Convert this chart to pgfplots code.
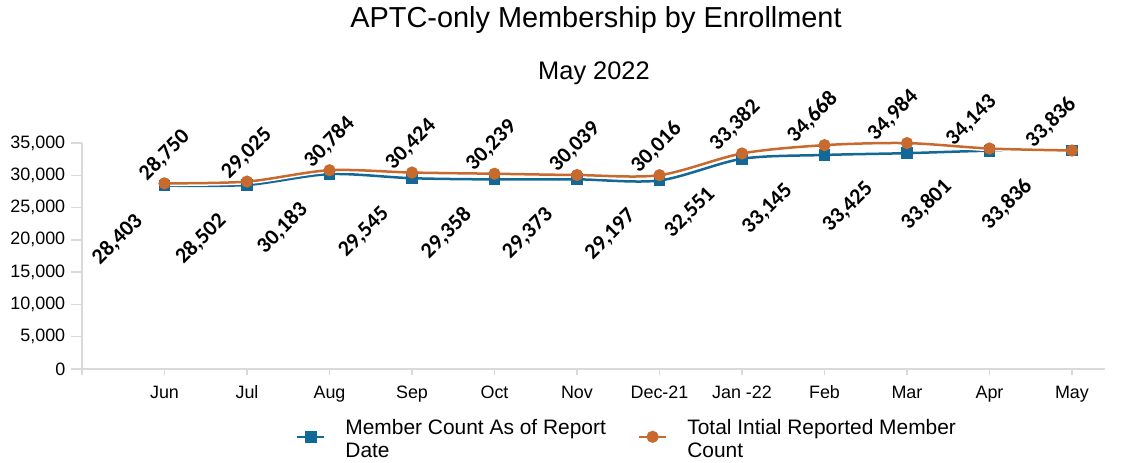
\documentclass[border=0pt]{standalone}
\usepackage{fontspec}
\setmainfont{Liberation Sans}
\newfontfamily\labfont{Carlito}
\usepackage{pgfplots}
\usepackage{pgfplotstable}
\pgfplotsset{compat=1.18}
\definecolor{cblue}{RGB}{18,104,150}
\definecolor{corange}{RGB}{200,106,45}
\definecolor{axgray}{RGB}{217,217,217}

\pgfplotstableread{
x blue bdx orange odx
1 28403 -47 28750 0
2 28502 -46 29025 0
3 30183 -47 30784 0
4 29545 -48 30424 -1
5 29358 -48 30239 -3
6 29373 -49 30039 -2
7 29197 -49 30016 -3
8 32551 -52 33382 -7
9 33145 -57 34668 -12
10 33425 -59 34984 -14
11 33801 -63 34143 -18
12 33836 -65 33836 -21
}\datatable

\begin{document}
\begin{tikzpicture}
\useasboundingbox (0,0) rectangle (1145bp,463bp);
\node[anchor=base, font=\fontsize{29}{34}\selectfont] at (596bp,435bp) {APTC-only Membership by Enrollment};
\node[anchor=base, font=\fontsize{25.5}{30}\selectfont] at (594bp,383bp) {May 2022};
\begin{axis}[
  at={(82bp,94bp)}, anchor=south west,
  scale only axis, width=1023bp, height=226bp,
  xmin=0, xmax=12.4, ymin=0, ymax=35000,
  axis x line*=bottom, axis y line*=left,
  axis line style={axgray, line width=2bp, -},
  xtick={0,...,12},
  xticklabels={,Jun,Jul,Aug,Sep,Oct,Nov,Dec-21,Jan -22,Feb,Mar,Apr,May},
  ytick={0,5000,...,35000},
  scaled y ticks=false,
  yticklabel style={/pgf/number format/.cd, fixed, 1000 sep={,}, assume math mode=true, /tikz/.cd, xshift=-9bp},
  xticklabel style={yshift=-9bp},
  tick align=outside,
  tick style={axgray, line width=1.5bp},
  xtick style={/pgfplots/major tick length=6bp},
  ytick style={/pgfplots/major tick length=11bp},
  ticklabel style={font=\fontsize{18}{22}\selectfont},
  clip=false,
  legend style={at={(axis description cs:0.206,-0.3)}, anchor=west, draw=none, fill=none,
    font=\fontsize{21}{23.5}\selectfont,
    /tikz/every odd column/.append style={column sep=18bp},
    /tikz/every even column/.append style={column sep=30bp}},
  legend columns=2,
  legend image code/.code={\draw[mark repeat=2,mark phase=2] plot coordinates {(0bp,0bp) (13.5bp,0bp) (27bp,0bp)};},
  nodes near coords={\pgfmathprintnumber[fixed,precision=0,1000 sep={,},assume math mode=true]{\pgfplotspointmeta}},
  point meta=y,
]
\addplot[white, line width=5.5bp, smooth, tension=0.5, forget plot, nodes near coords={}] table[x=x,y=blue]{\datatable};
\addplot[cblue, line width=2.5bp, smooth, tension=0.5, mark=square*, mark size=4.6bp, mark options={solid},
  visualization depends on={\thisrow{bdx} \as \mydx},
  every node near coord/.append style={font=\labfont\bfseries\fontsize{22}{26}\selectfont, black, anchor=center, xshift=\mydx bp, yshift=-54bp, rotate=45}]
  table[x=x,y=blue]{\datatable};
\addlegendentry{\raisebox{8bp}{\begin{tabular}{@{}l@{}}Member Count As of Report\\Date\end{tabular}}}
\addplot[white, line width=5.5bp, smooth, tension=0.5, forget plot, nodes near coords={}] table[x=x,y=orange]{\datatable};
\addplot[corange, line width=2.5bp, smooth, tension=0.5, mark=*, mark size=4.8bp, mark options={solid},
  visualization depends on={\thisrow{odx} \as \mydx},
  every node near coord/.append style={font=\labfont\bfseries\fontsize{22}{26}\selectfont, black, anchor=center, xshift=\mydx bp, yshift=28bp, rotate=45}]
  table[x=x,y=orange]{\datatable};
\addlegendentry{\raisebox{8bp}{\begin{tabular}{@{}l@{}}Total Intial Reported Member\\Count\end{tabular}}}
\end{axis}
\end{tikzpicture}
\end{document}
